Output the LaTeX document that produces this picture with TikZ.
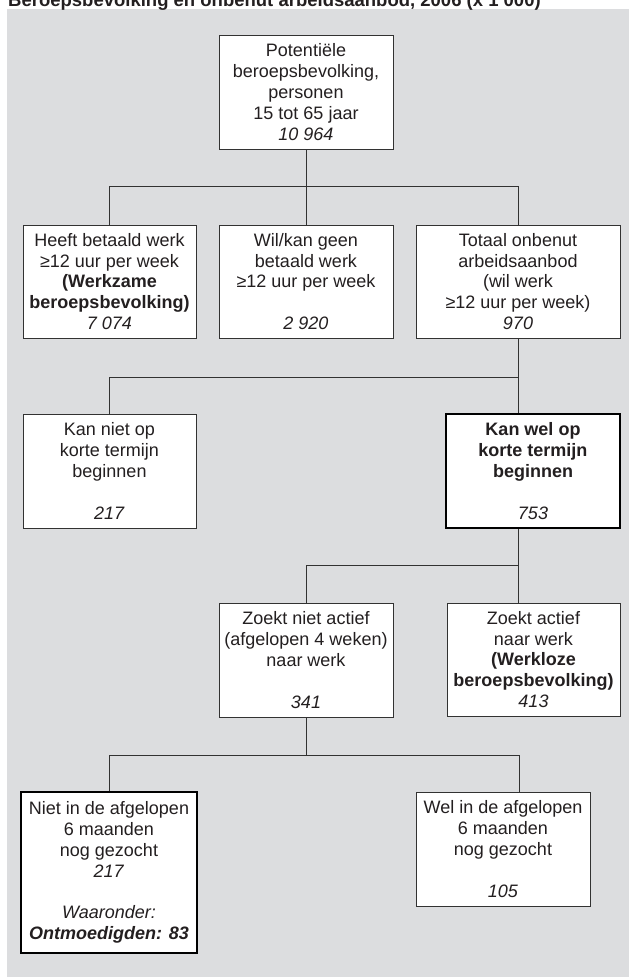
\documentclass[tikz,border=0pt]{standalone}
\usepackage{fontspec}
\setmainfont{Liberation Sans}
\definecolor{bggray}{RGB}{220,221,223}
\definecolor{linegray}{RGB}{50,50,50}
\definecolor{txt}{RGB}{35,31,32}
\begin{document}
\begin{tikzpicture}[x=1pt,y=-1pt,
  box/.style={draw=linegray, fill=white, line width=0.9pt, inner sep=0pt, align=center,
    text=txt, font=\fontsize{18}{20.8}\selectfont},
  thickbox/.style={box, draw=black, line width=2.4pt},
  conn/.style={draw=linegray, line width=0.9pt}]
\useasboundingbox (0,0) rectangle (629,978);
\fill[bggray] (7,9) rectangle (629,977);
\node[anchor=base west, inner xsep=0pt, text=txt, font=\bfseries\fontsize{18.5}{21}\selectfont] (title) at (8,6)
  {Beroepsbevolking en onbenut arbeidsaanbod, 2006 (x 1 000)};

% boxes
\node[box, minimum width=174pt, minimum height=114pt] (top) at (306,92)
  {Potentiële\\beroepsbevolking,\\personen\\15 tot 65 jaar\\\textit{10 964}};
\node[box, minimum width=173pt, minimum height=113pt] (b1) at (109.5,281.5)
  {Heeft betaald werk\\≥12 uur per week\\\textbf{(Werkzame}\\\textbf{beroepsbevolking)}\\\textit{7 074}};
\node[box, minimum width=174pt, minimum height=113pt] (b2) at (306,281.5)
  {Wil/kan geen\\betaald werk\\≥12 uur per week\\[20.8pt]\textit{2 920}};
\node[box, minimum width=204pt, minimum height=113pt] (b3) at (518,281.5)
  {Totaal onbenut\\arbeidsaanbod\\(wil werk\\≥12 uur per week)\\\textit{970}};
\node[box, minimum width=173pt, minimum height=114pt] (kn) at (109.5,471)
  {Kan niet op\\korte termijn\\beginnen\\[20.8pt]\textit{217}};
\node[thickbox, minimum width=174pt, minimum height=114pt] (kw) at (533,471)
  {\textbf{Kan wel op}\\\textbf{korte termijn}\\\textbf{beginnen}\\[20.8pt]\textit{753}};
\node[box, minimum width=174pt, minimum height=114pt] (zn) at (306,660)
  {Zoekt niet actief\\(afgelopen 4 weken)\\naar werk\\[20.8pt]\textit{341}};
\node[box, minimum width=173pt, minimum height=113pt] (za) at (533.5,659.5)
  {Zoekt actief\\naar werk\\\textbf{(Werkloze}\\\textbf{beroepsbevolking)}\\\textit{413}};
\node[thickbox, minimum width=176pt, minimum height=161pt] (nd) at (109,872.5)
  {Niet in de afgelopen\\6 maanden\\nog gezocht\\\textit{217}\\[20.8pt]\textit{Waaronder:}\\\textbf{\textit{Ontmoedigden: 83}}};
\node[box, minimum width=174pt, minimum height=114pt] (wd) at (503,849)
  {Wel in de afgelopen\\6 maanden\\nog gezocht\\[20.8pt]\textit{105}};

% junction coordinates
\coordinate (h1) at (306,186);
\coordinate (h2) at (518,377);
\coordinate (h3) at (518,565);
\coordinate (h4) at (306,755);
\coordinate (h4r) at (519,755);

% connectors
\draw[conn] (top.south) -- (b2.north);
\draw[conn] (b1.north) -- (b1.north |- h1) -- (b3.north |- h1) -- (b3.north);
\draw[conn] (b3.south) -- (b3.south |- kw.north);
\draw[conn] (kn.north) |- (h2);
\draw[conn] (b3.south |- kw.south) -- (b3.south |- zn.north);
\draw[conn] (zn.north) |- (h3);
\draw[conn] (zn.south) -- (h4);
\draw[conn] (nd.north) |- (h4r) -- (h4r |- wd.north);
\end{tikzpicture}
\end{document}
